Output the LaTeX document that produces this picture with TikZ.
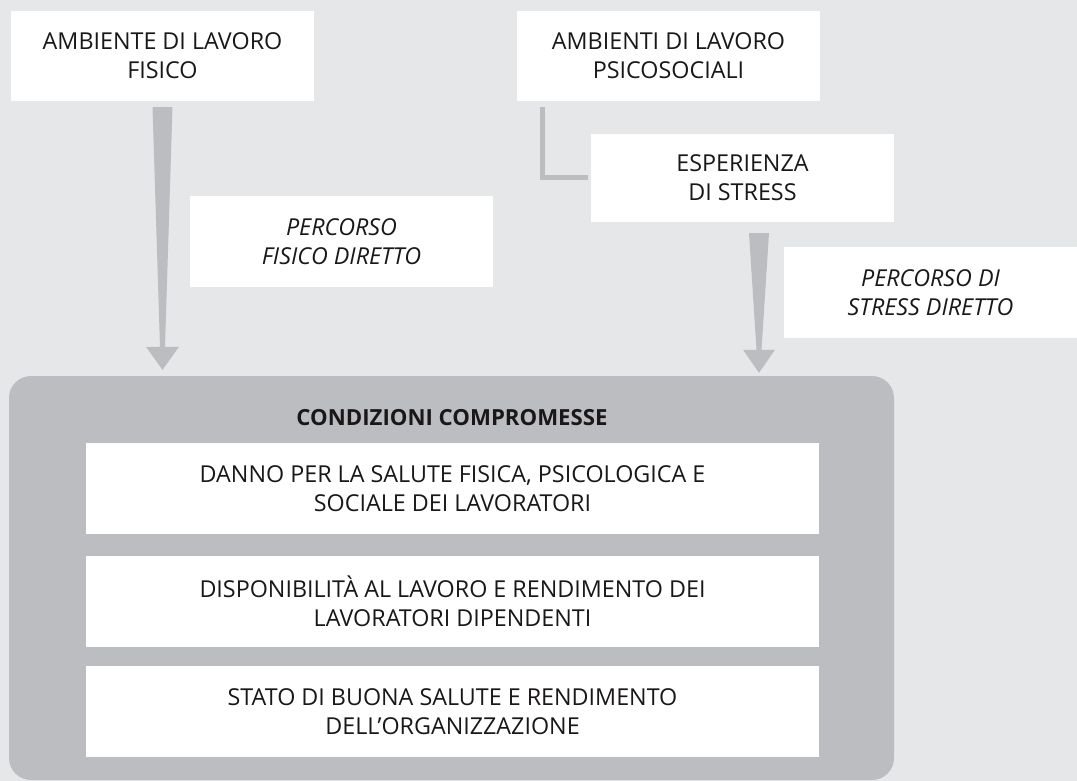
\documentclass[tikz,border=0pt]{standalone}
\usepackage{fontspec}
\setmainfont{Open Sans}
\usetikzlibrary{calc}
\definecolor{bgc}{HTML}{E6E7E8}
\definecolor{grc}{HTML}{BCBDC0}
\definecolor{txc}{HTML}{1A1718}
\newcommand\dfont{\fontsize{23.3}{29}\selectfont}
\newcommand\bfont{\fontsize{22.2}{29}\selectfont\bfseries}
\begin{document}
\begin{tikzpicture}[x=1pt,y=-1pt,
  wbox/.style={fill=white, draw=none, minimum width=303, minimum height=90, inner sep=0pt, align=center, text=txc, font=\dfont},
  ibox/.style={wbox, minimum width=733, minimum height=91},
  gfill/.style={fill=grc, draw=none},
  conn/.style={draw=grc, line width=5pt, line cap=butt}
]
\fill[bgc] (0,0) rectangle (1077,781);
\useasboundingbox (0,0) rectangle (1077,781);

% main compromised-conditions box
\node[gfill, rounded corners=22pt, minimum width=885, minimum height=404, inner sep=0pt] (cond) at (451.5,578) {};
\node[text=txc, font=\bfont, inner sep=0pt] (condt) at (452,418) {CONDIZIONI COMPROMESSE};
\node[ibox] (i1) at (452.5,488.5) {DANNO PER LA SALUTE FISICA, PSICOLOGICA E\\SOCIALE DEI LAVORATORI};
\node[ibox] (i2) at (452.5,601.5) {DISPONIBILITÀ AL LAVORO E RENDIMENTO DEI\\LAVORATORI DIPENDENTI};
\node[ibox] (i3) at (452.5,711.5) {STATO DI BUONA SALUTE E RENDIMENTO\\DELL’ORGANIZZAZIONE};

% top boxes
\node[wbox] (fis) at (162.5,56) {AMBIENTE DI LAVORO\\FISICO};
\node[wbox] (psi) at (668.5,56) {AMBIENTI DI LAVORO\\PSICOSOCIALI};
\node[wbox, minimum height=88] (esp) at (742.5,178) {ESPERIENZA\\DI STRESS};
\node[wbox, minimum height=91, font=\dfont\itshape] (pf) at (341.5,241.5) {PERCORSO\\FISICO DIRETTO};
\node[wbox, minimum width=293, minimum height=91, font=\dfont\itshape] (ps) at (930.5,292.5) {PERCORSO DI\\STRESS DIRETTO};

% connector psychosocial -> stress experience
\draw[conn] ([shift={(26,6)}]psi.south west) |- ([xshift=-3pt]esp.west);

% physical path arrow
\coordinate (f1) at ($(fis.south)+(0,6)$);
\coordinate (f2) at ($(cond.north -| fis.south)+(0,-6)$);
\fill[grc] ($(f1)+(-10,0)$) -- ($(f1)+(10,0)$) -- ($(f2)+(2.5,-23)$) -- ($(f2)+(16.5,-23)$) -- (f2)
  -- ($(f2)+(-16.5,-23)$) -- ($(f2)+(-2.5,-23)$) -- cycle;

% stress path arrow
\coordinate (s1) at ($(esp.south)+(16.5,11)$);
\coordinate (s2) at ($(cond.north -| s1)+(0,-3)$);
\fill[grc] ($(s1)+(-10,0)$) -- ($(s1)+(10,0)$) -- ($(s2)+(2.5,-23)$) -- ($(s2)+(16,-23)$) -- (s2)
  -- ($(s2)+(-16,-23)$) -- ($(s2)+(-2.5,-23)$) -- cycle;
\end{tikzpicture}
\end{document}
